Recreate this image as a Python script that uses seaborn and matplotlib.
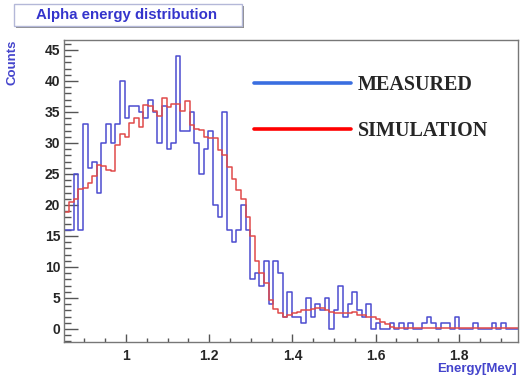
import numpy as np
import pandas as pd
import matplotlib
matplotlib.use("Agg")
import matplotlib.pyplot as plt
import seaborn as sns
from matplotlib.lines import Line2D
from matplotlib.patches import Rectangle
from matplotlib.ticker import MultipleLocator, FuncFormatter

# ---- data ----
x_start = 0.852
bin_width = 0.011164
measured = [16, 16, 25, 16, 33, 26, 27, 22, 30, 33,
            30, 33, 40, 34, 36, 36, 35, 34, 37, 35,
            30, 36, 29, 30, 44, 32, 32, 35, 30, 25,
            29, 32, 20, 18, 35, 16, 14, 16, 20, 16,
            8, 9, 7, 11, 4, 11, 9, 2, 6, 2,
            2, 1, 5, 2, 4, 3, 5, 0, 3, 7,
            2, 4, 6, 3, 2, 4, 0, 1, 0, 0,
            1, 0, 1, 0, 1, 0, 0, 1, 2, 1,
            0, 1, 1, 0, 2, 0, 0, 0, 1, 0,
            0, 0, 1, 0, 1, 0, 0, 0]
simulation = [18.8, 20.5, 21.0, 22.5, 22.8, 23.5, 24.6, 26.5, 26.3, 25.6,
              25.4, 29.7, 31.5, 31.0, 33.2, 34.1, 32.5, 36.1, 36.0, 35.2,
              34.4, 37.2, 35.8, 36.3, 36.3, 35.2, 36.8, 32.9, 32.3, 32.1,
              30.9, 30.8, 30.8, 28.9, 28.1, 26.2, 24.2, 22.4, 20.9, 18.1,
              15.0, 11.0, 9.0, 7.4, 4.7, 3.2, 2.5, 2.0, 2.3, 2.5,
              2.8, 3.0, 3.0, 3.2, 3.4, 3.4, 3.0, 2.7, 2.5, 2.6,
              2.5, 2.5, 2.7, 2.3, 2.3, 2.0, 2.0, 1.6, 1.2, 0.8,
              0.3, 0.1, 0.1, 0.1, 0.1, 0.1, 0.1, 0.1, 0.1, 0.1,
              0.1, 0.1, 0.1, 0.1, 0.1, 0.1, 0.1, 0.1, 0.1, 0.1,
              0.1, 0.1, 0.1, 0.1, 0.1, 0.1, 0.1, 0.1]
series_names = ["MEASURED", "SIMULATION"]
title_text = "Alpha energy distribution"
x_label = "Energy[Mev]"
y_label = "Counts"

sns.set_style("white")
plt.rcParams['font.family'] = ['Liberation Sans', 'DejaVu Sans']

W, H = 521, 377
fig = plt.figure(figsize=(W / 100, H / 100), dpi=100)
ax = fig.add_axes([64.3 / W, 1 - 342 / H, (518 - 64.3) / W, (342 - 40) / H])

n = len(measured)
edges = x_start + bin_width * np.arange(n + 1)
centers = (edges[:-1] + edges[1:]) / 2
df = pd.DataFrame({
    "energy": np.concatenate([centers, centers]),
    "counts": list(measured) + list(simulation),
    "series": [series_names[0]] * n + [series_names[1]] * n,
})

sns.histplot(data=df[df.series == series_names[0]], x="energy", weights="counts",
             bins=list(edges), element="step", fill=False, color="#4c4cd0",
             linewidth=1.1, ax=ax)
sns.histplot(data=df[df.series == series_names[1]], x="energy", weights="counts",
             bins=list(edges), element="step", fill=False, color="#e04a4a",
             linewidth=1.1, ax=ax)

ax.set_xlim(0.852, 1.942)
ax.set_ylim(-2.1, 46.6)
ax.set_xlabel("")
ax.set_ylabel("")

ax.xaxis.set_major_locator(MultipleLocator(0.2))
ax.xaxis.set_minor_locator(MultipleLocator(0.05))
ax.yaxis.set_major_locator(MultipleLocator(5))
ax.yaxis.set_minor_locator(MultipleLocator(1))
ax.xaxis.set_major_formatter(FuncFormatter(lambda v, p: f"{v:g}"))

tick_col = "#555555"
ax.tick_params(axis="y", which="major", direction="in", length=10, width=1,
               color=tick_col, pad=3, labelsize=10, left=True)
ax.tick_params(axis="y", which="minor", direction="in", length=5, width=1,
               color=tick_col, left=True)
ax.tick_params(axis="x", which="major", direction="in", length=6, width=1,
               color=tick_col, pad=5, labelsize=10, bottom=True)
ax.tick_params(axis="x", which="minor", direction="in", length=3, width=1,
               color=tick_col, bottom=True)
for lab in ax.get_xticklabels() + ax.get_yticklabels():
    lab.set_fontweight("bold")

for s in ax.spines.values():
    s.set_visible(True)
    s.set_color("#777777")
    s.set_linewidth(1.0)

handles = [Line2D([], [], color="#3a6ee0", lw=2.6),
           Line2D([], [], color="#ff0000", lw=2.6)]
leg = ax.legend(handles=handles, labels=series_names, frameon=False,
                prop=dict(family=["Liberation Serif", "DejaVu Serif"], weight="bold", size=14.5),
                handlelength=4.8, handletextpad=0.35, labelspacing=1.3,
                borderpad=0, borderaxespad=0, loc="upper left",
                bbox_to_anchor=(254 / W, 1 - 75 / H), bbox_transform=fig.transFigure)

# title box
shadow = Rectangle((16 / W, 1 - 28 / H), 228 / W, 22 / H, transform=fig.transFigure,
                   facecolor="#8c8c8c", edgecolor="none", zorder=1)
box = Rectangle((14 / W, 1 - 26 / H), 228 / W, 22 / H, transform=fig.transFigure,
                facecolor="white", edgecolor="#b4b8d8", lw=1.0, zorder=2)
fig.patches.extend([shadow, box])
fig.text(127 / W, 1 - 15 / H, title_text, ha="center", va="center",
         color="#3434cc", fontweight="bold", fontsize=10.8, zorder=3)

fig.text(13 / W, 1 - 40 / H, y_label, rotation=90, ha="center", va="top",
         color="#4444cc", fontweight="bold", fontsize=9.5)
fig.text(517 / W, 1 - 369 / H, x_label, ha="right", va="center",
         color="#4444cc", fontweight="bold", fontsize=9.5)

fig.savefig("out.png", dpi=100)
